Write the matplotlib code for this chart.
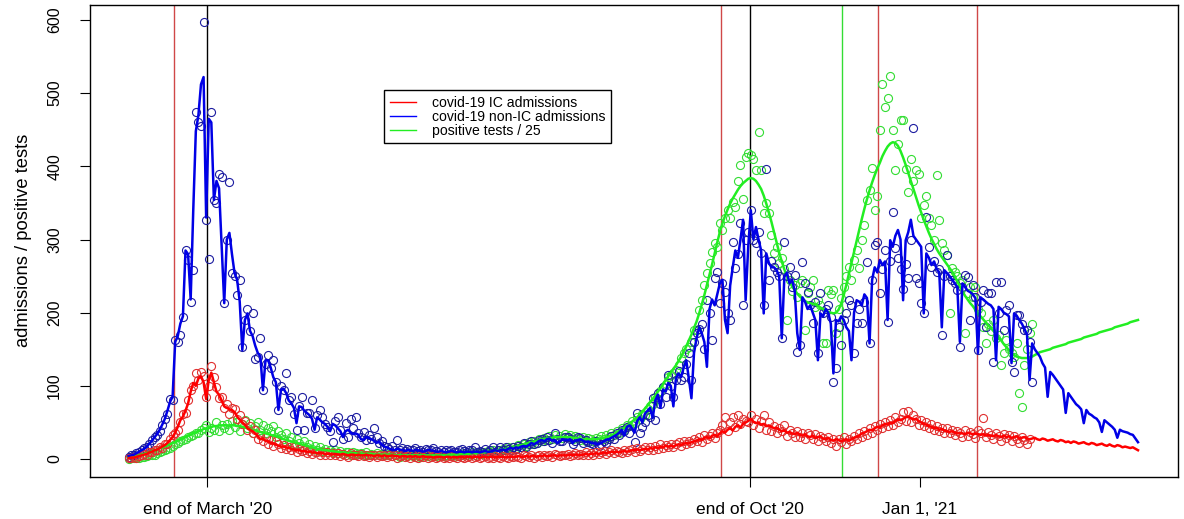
import matplotlib.pyplot as plt
import numpy as np
from matplotlib.lines import Line2D

plt.rcParams['font.family'] = ['Liberation Sans', 'DejaVu Sans']

# daily series, day 0 = first day of data
ic_line = [
    1, 2, 2, 3, 4, 5, 6, 7, 9, 10,
    12, 13, 15, 17, 19, 22, 26, 30, 36, 44,
    53, 58, 66, 76, 92, 104, 100, 110, 113, 105,
    82, 108, 118, 105, 92, 88, 80, 72, 70, 68,
    67, 64, 58, 54, 50, 47, 42, 40, 38, 35,
    31, 27, 28, 25, 24, 22, 21, 20, 18, 17,
    17, 16, 15, 14, 13, 12, 12, 11, 11, 10,
    10, 9, 9, 8, 8, 8, 7, 7, 7, 6,
    7, 6, 6, 7, 6, 5, 6, 6, 5, 6,
    5, 5, 6, 5, 5, 4, 5, 5, 4, 5,
    4, 4, 5, 4, 4, 3, 4, 4, 3, 4,
    3, 4, 3, 3, 4, 3, 3, 3, 2, 3,
    3, 3, 2, 3, 3, 2, 3, 2, 3, 3,
    2, 3, 3, 2, 3, 3, 2, 3, 3, 2,
    3, 3, 2, 3, 3, 3, 2, 3, 3, 3,
    3, 4, 3, 3, 4, 3, 4, 4, 3, 4,
    4, 5, 4, 4, 5, 5, 4, 5, 5, 5,
    5, 6, 5, 6, 6, 5, 6, 7, 6, 7,
    7, 8, 7, 8, 9, 8, 9, 10, 9, 10,
    9, 10, 11, 10, 11, 12, 12, 13, 12, 13,
    14, 13, 15, 14, 16, 15, 17, 16, 18, 17,
    18, 17, 19, 20, 19, 21, 22, 21, 23, 24,
    25, 27, 26, 29, 30, 28, 32, 33, 31, 35,
    38, 36, 40, 42, 39, 44, 46, 43, 48, 50,
    52, 55, 51, 49, 50, 47, 48, 45, 46, 44,
    42, 43, 40, 38, 39, 36, 37, 35, 34, 36,
    33, 32, 34, 31, 30, 32, 29, 30, 31, 28,
    27, 29, 26, 25, 27, 26, 24, 26, 27, 25,
    27, 29, 30, 32, 35, 36, 38, 40, 39, 42,
    44, 43, 46, 48, 47, 50, 49, 52, 54, 53,
    55, 57, 58, 56, 54, 55, 52, 50, 48, 47,
    45, 44, 42, 43, 40, 41, 39, 38, 37, 38,
    36, 35, 36, 35, 34, 36, 35, 34, 35, 34,
    33, 34, 32, 33, 32, 31, 33, 31, 30, 32,
    30, 31, 29, 30, 31, 28, 29, 30, 28, 27,
    28, 29, 27, 26, 28, 27, 25, 26, 27, 25,
    24, 26, 25, 23, 24, 22, 24, 23, 21, 22,
    23, 21, 20, 22, 21, 19, 20, 21, 19, 18,
    20, 18, 17, 19, 18, 16, 17, 16, 15, 16,
    14, 12,
]

nonic_line = [
    4, 5, 6, 8, 10, 12, 14, 17, 21, 25,
    30, 34, 40, 47, 55, 66, 78, 85, 160, 168,
    185, 195, 285, 280, 218, 340, 448, 470, 512, 522,
    330, 465, 460, 354, 380, 370, 290, 213, 300, 309,
    280, 254, 245, 215, 149, 190, 199, 175, 168, 155,
    145, 140, 94, 135, 135, 125, 112, 105, 67, 95,
    96, 90, 80, 76, 70, 49, 72, 71, 66, 63,
    60, 55, 40, 57, 54, 50, 48, 44, 38, 48,
    46, 42, 38, 30, 38, 40, 36, 34, 35, 33,
    27, 26, 30, 29, 27, 25, 22, 24, 20, 17,
    16, 14, 13, 12, 14, 13, 12, 11, 12, 12,
    11, 12, 12, 11, 10, 11, 12, 12, 11, 10,
    10, 11, 10, 9, 10, 11, 10, 9, 10, 10,
    9, 10, 10, 9, 10, 10, 9, 10, 11, 10,
    10, 11, 12, 11, 12, 13, 12, 14, 15, 14,
    16, 15, 17, 18, 17, 19, 22, 20, 22, 25,
    26, 24, 27, 28, 25, 26, 22, 24, 27, 26,
    26, 27, 22, 25, 26, 27, 25, 23, 24, 22,
    22, 21, 20, 22, 24, 26, 27, 29, 31, 33,
    36, 40, 32, 44, 46, 42, 36, 52, 57, 50,
    62, 66, 70, 56, 80, 88, 70, 95, 92, 104,
    100, 72, 110, 117, 112, 125, 135, 110, 83, 145,
    165, 180, 172, 160, 126, 205, 218, 210, 225, 240,
    245, 190, 172, 237, 262, 285, 275, 300, 327, 217,
    290, 340, 300, 317, 300, 285, 199, 281, 268, 262,
    262, 258, 250, 165, 249, 255, 240, 245, 230, 172,
    149, 221, 215, 205, 210, 200, 190, 135, 199, 195,
    205, 200, 185, 117, 190, 188, 195, 190, 180, 175,
    135, 200, 217, 215, 210, 225, 220, 158, 245, 262,
    255, 272, 265, 270, 190, 299, 290, 305, 313, 300,
    217, 299, 310, 327, 305, 300, 295, 290, 199, 281,
    275, 265, 270, 260, 255, 180, 258, 254, 250, 245,
    240, 235, 160, 240, 235, 230, 228, 225, 220, 145,
    221, 218, 215, 212, 210, 205, 135, 208, 205, 200,
    198, 195, 131, 199, 196, 190, 185, 178, 170, 108,
    158, 150, 145, 140, 131, 125, 85, 119, 115, 110,
    105, 100, 95, 63, 90, 85, 80, 75, 72, 68,
    49, 67, 62, 60, 57, 55, 50, 37, 53, 50,
    47, 44, 40, 29, 40, 38, 37, 36, 34, 33,
    28, 23,
]

tests_line = [
    2, 3, 3, 4, 5, 6, 7, 8, 9, 11,
    12, 13, 15, 16, 17, 19, 20, 22, 23, 25,
    27, 28, 30, 32, 33, 35, 36, 38, 39, 41,
    42, 43, 44, 45, 45, 46, 46, 46, 46, 46,
    46, 46, 45, 45, 44, 43, 42, 41, 40, 39,
    38, 37, 36, 35, 34, 33, 32, 31, 30, 29,
    27, 26, 25, 24, 23, 22, 21, 20, 19, 18,
    17, 16, 15, 14, 13, 13, 12, 12, 11, 11,
    10, 10, 9, 9, 9, 8, 8, 8, 8, 7,
    7, 7, 7, 7, 7, 6, 6, 6, 6, 6,
    6, 6, 6, 5, 5, 5, 5, 5, 5, 5,
    5, 5, 5, 5, 5, 5, 5, 5, 5, 5,
    5, 5, 5, 5, 6, 6, 6, 6, 6, 7,
    7, 7, 7, 8, 8, 8, 9, 9, 9, 10,
    10, 11, 11, 12, 12, 13, 14, 14, 15, 16,
    17, 18, 19, 20, 21, 22, 23, 24, 25, 26,
    27, 28, 28, 29, 29, 30, 30, 30, 30, 30,
    30, 30, 29, 29, 28, 28, 27, 27, 27, 27,
    27, 27, 28, 28, 29, 30, 31, 32, 34, 36,
    38, 40, 43, 45, 48, 51, 54, 57, 61, 65,
    69, 73, 78, 82, 87, 92, 97, 102, 108, 113,
    118, 123, 128, 134, 140, 147, 154, 162, 170, 179,
    188, 199, 211, 224, 238, 252, 266, 281, 296, 310,
    322, 332, 341, 349, 356, 362, 368, 373, 377, 380,
    383, 384, 383, 380, 375, 369, 360, 349, 337, 324,
    310, 296, 282, 270, 259, 250, 242, 236, 231, 226,
    222, 219, 216, 214, 213, 212, 211, 209, 207, 205,
    203, 201, 200, 199, 200, 204, 212, 224, 238, 253,
    268, 283, 298, 313, 328, 342, 355, 367, 378, 388,
    397, 405, 414, 421, 427, 431, 433, 432, 428, 421,
    412, 402, 391, 380, 369, 358, 347, 337, 327, 318,
    309, 301, 294, 287, 281, 276, 271, 266, 261, 256,
    250, 243, 236, 229, 223, 218, 213, 209, 204, 199,
    195, 191, 187, 183, 179, 175, 171, 166, 162, 157,
    153, 149, 145, 142, 140, 139, 138, 138, 138, 139,
    140, 142, 144, 146, 147, 148, 149, 150, 152, 153,
    154, 155, 156, 157, 159, 160, 161, 162, 163, 164,
    166, 167, 168, 169, 170, 171, 173, 174, 175, 176,
    177, 178, 180, 181, 182, 183, 184, 185, 187, 188,
    189, 190,
]

ic_obs = [
    1, 2, 3, 2, 4, 5, 7, 6, 10, 9,
    13, 12, 17, 15, 21, 20, 27, 33, 35, 40,
    50, 61, 63, 80, 95, 100, 117, 108, 119, 113,
    85, 100, 127, 112, 98, 83, 85, 70, 75, 62,
    70, 68, 55, 60, 48, 52, 40, 45, 35, 40,
    28, 33, 25, 30, 20, 26, 18, 24, 20, 15,
    19, 14, 17, 12, 16, 10, 14, 11, 13, 8,
    11, 7, 10, 9, 6, 10, 5, 9, 6, 8,
    5, 8, 4, 7, 6, 3, 8, 5, 6, 4,
    7, 4, 6, 3, 6, 5, 3, 6, 4, 5,
    3, 5, 4, 6, 2, 4, 5, 3, 4, 2,
    5, 3, 2, 4, 3, 5, 2, 3, 4, 1,
    3, 4, 2, 3, 1, 4, 3, 2, 4, 3,
    1, 3, 4, 2, 3, 4, 1, 3, 4, 2,
    3, 2, 4, 3, 1, 4, 3, 2, 4, 3,
    4, 3, 2, 5, 4, 3, 5, 2, 4, 5,
    3, 6, 4, 5, 3, 7, 5, 4, 6, 5,
    7, 4, 6, 8, 5, 7, 5, 9, 6, 8,
    6, 10, 7, 9, 11, 7, 10, 12, 8, 11,
    10, 8, 13, 10, 12, 14, 10, 15, 11, 14,
    16, 12, 17, 13, 18, 14, 20, 15, 19, 17,
    21, 16, 20, 23, 18, 24, 20, 25, 22, 27,
    24, 30, 23, 33, 27, 31, 36, 29, 35, 40,
    47, 58, 38, 50, 57, 44, 60, 48, 55, 52,
    50, 60, 47, 55, 43, 52, 60, 40, 50, 38,
    45, 35, 42, 38, 47, 32, 40, 36, 30, 38,
    30, 36, 28, 35, 33, 27, 34, 25, 31, 29,
    24, 30, 22, 28, 18, 27, 23, 30, 20, 28,
    25, 32, 27, 35, 30, 38, 33, 42, 36, 45,
    40, 48, 42, 50, 45, 53, 47, 58, 50, 55,
    64, 52, 66, 50, 60, 55, 47, 53, 45, 50,
    42, 48, 40, 45, 38, 43, 36, 42, 35, 40,
    33, 38, 35, 30, 40, 32, 37, 34, 29, 39,
    35, 56, 30, 37, 33, 28, 36, 31, 25, 34,
    29, 33, 24, 31, 27, 22, 30, 26, 20, 28,
]

nonic_obs = [
    3, 5, 6, 8, 9, 12, 15, 16, 20, 26,
    30, 33, 38, 46, 55, 62, 82, 80, 162, 160,
    170, 194, 285, 272, 214, 258, 474, 460, 455, 597,
    327, 274, 474, 354, 350, 390, 386, 213, 300, 378,
    254, 250, 224, 245, 153, 190, 205, 175, 199, 137,
    140, 165, 94, 130, 142, 125, 135, 105, 67, 100,
    95, 117, 80, 85, 62, 40, 72, 85, 40, 63,
    63, 80, 42, 60, 67, 57, 48, 44, 38, 23,
    52, 57, 40, 28, 49, 30, 55, 42, 57, 35,
    30, 37, 26, 33, 28, 42, 30, 22, 25, 18,
    17, 14, 18, 13, 26, 12, 15, 11, 14, 12,
    12, 15, 11, 13, 10, 14, 12, 13, 15, 11,
    10, 13, 9, 12, 11, 13, 10, 9, 12, 14,
    11, 9, 13, 12, 17, 10, 11, 9, 14, 10,
    12, 17, 10, 13, 16, 12, 17, 14, 13, 17,
    14, 18, 16, 22, 17, 20, 24, 21, 22, 26,
    28, 24, 30, 26, 22, 35, 28, 25, 24, 30,
    30, 28, 20, 24, 30, 29, 22, 26, 23, 22,
    20, 24, 18, 21, 25, 22, 27, 31, 28, 35,
    33, 40, 38, 44, 35, 46, 23, 63, 35, 44,
    50, 60, 58, 83, 53, 90, 75, 98, 85, 115,
    100, 85, 108, 120, 108, 112, 130, 145, 108, 160,
    172, 178, 185, 150, 217, 200, 163, 248, 256, 213,
    240, 228, 200, 190, 297, 261, 280, 322, 210, 300,
    310, 340, 300, 295, 310, 282, 210, 397, 245, 270,
    262, 255, 250, 165, 297, 250, 262, 235, 251, 146,
    156, 269, 240, 228, 210, 186, 215, 145, 227, 200,
    205, 210, 194, 105, 124, 180, 156, 190, 200, 217,
    210, 145, 186, 205, 186, 215, 269, 158, 245, 292,
    297, 227, 260, 285, 187, 270, 337, 288, 275, 260,
    233, 267, 247, 300, 452, 247, 240, 213, 200, 331,
    290, 262, 270, 255, 260, 169, 250, 279, 250, 245,
    240, 231, 153, 235, 251, 249, 190, 238, 221, 149,
    215, 231, 180, 227, 227, 133, 242, 200, 242, 176,
    204, 210, 133, 119, 197, 197, 185, 176, 176, 160,
    105,
]

tests_obs = [
    0, 1, 1, 2, 2, 3, 3, 4, 5, 6,
    6, 8, 9, 11, 12, 14, 15, 18, 20, 22,
    24, 26, 27, 30, 32, 33, 36, 35, 40, 42,
    47, 37, 43, 40, 50, 38, 46, 42, 48, 40,
    52, 44, 50, 38, 48, 53, 42, 49, 36, 45,
    50, 40, 47, 35, 43, 38, 45, 30, 38, 33,
    28, 35, 25, 30, 20, 27, 22, 18, 25, 16,
    20, 14, 18, 12, 16, 11, 14, 9, 13, 10,
    12, 8, 11, 7, 10, 9, 6, 10, 8, 7,
    8, 6, 9, 5, 7, 6, 8, 5, 7, 6,
    5, 7, 4, 6, 5, 3, 6, 5, 4, 6,
    4, 6, 5, 3, 5, 6, 4, 5, 7, 4,
    5, 6, 4, 5, 7, 5, 6, 4, 7, 6,
    8, 6, 7, 9, 6, 8, 10, 7, 9, 11,
    9, 12, 10, 13, 11, 14, 12, 16, 13, 17,
    15, 19, 16, 21, 18, 23, 20, 25, 22, 27,
    24, 29, 26, 31, 27, 33, 28, 31, 29, 34,
    30, 33, 27, 31, 29, 26, 30, 25, 29, 28,
    24, 29, 27, 31, 28, 33, 30, 35, 33, 38,
    36, 42, 40, 47, 45, 52, 49, 57, 55, 62,
    60, 68, 72, 75, 85, 82, 93, 98, 103, 112,
    115, 118, 122, 128, 138, 145, 150, 153, 160, 176,
    176, 204, 217, 238, 254, 268, 283, 295, 290, 322,
    313, 329, 340, 329, 351, 345, 380, 402, 355, 413,
    418, 415, 410, 395, 447, 395, 336, 350, 336, 306,
    281, 290, 268, 275, 260, 190, 245, 230, 238, 221,
    240, 245, 176, 227, 235, 245, 208, 217, 210, 158,
    158, 231, 225, 231, 172, 205, 220, 235, 250, 262,
    245, 272, 285, 261, 300, 320, 354, 367, 398, 340,
    360, 449, 513, 481, 493, 524, 449, 395, 430, 463,
    463, 397, 365, 410, 380, 395, 390, 329, 347, 360,
    330, 320, 300, 388, 327, 295, 285, 279, 199, 261,
    255, 250, 240, 245, 172, 227, 235, 221, 235, 205,
    200, 180, 158, 185, 175, 190, 165, 170, 128, 145,
    163, 150, 145, 140, 158, 90, 71, 128, 150, 172,
    185,
]

tick_days = [30.5, 240.5, 306.5]
tick_labels = ["end of March '20", "end of Oct '20", "Jan 1, '21"]
red_marks = [17.5, 229.5, 290.3, 328.7]
black_marks = [30.5, 240.5]
green_marks = [276.4]

days = np.arange(len(nonic_line))

fig = plt.figure(figsize=(11.84, 5.19), dpi=100)
ax = fig.add_axes([90 / 1184, 42.5 / 519, 1088 / 1184, 471.8 / 519])

for d in red_marks:
    ax.axvline(d, color='#d04848', lw=1, zorder=1)
for d in black_marks:
    ax.axvline(d, color='black', lw=1, zorder=1)
for d in green_marks:
    ax.axvline(d, color='#33dd33', lw=1, zorder=1)

ax.plot(np.arange(len(tests_obs)), tests_obs, 'o', mfc='none', mec='#33dd33', ms=5.8, mew=0.8, zorder=2)
ax.plot(np.arange(len(nonic_obs)), nonic_obs, 'o', mfc='none', mec='#1c1ca0', ms=5.8, mew=0.8, zorder=2)
ax.plot(np.arange(len(ic_obs)), ic_obs, 'o', mfc='none', mec='#e03030', ms=5.8, mew=0.8, zorder=2)

ax.plot(days, tests_line, color='#22ee22', lw=1.8, zorder=3)
ax.plot(days, nonic_line, color='#0000e6', lw=1.8, zorder=3)
ax.plot(days, ic_line, color='#ff0000', lw=1.8, zorder=3)

ax.set_xlim(-15, 406.5)
ax.set_ylim(-23.9, 620.9)
ax.set_xticks(tick_days)
ax.set_xticklabels(tick_labels)
ax.set_yticks(np.arange(0, 601, 100))
ax.tick_params(axis='x', length=7, pad=11, labelsize=12.5, width=0.8)
ax.tick_params(axis='y', length=7, pad=13, labelsize=11.5, width=0.8, labelrotation=90)
for lab in ax.get_yticklabels():
    lab.set_va('center')
ax.set_ylabel('admissions / positive tests', fontsize=13.2, labelpad=11)
for s in ax.spines.values():
    s.set_linewidth(1)

handles = [Line2D([], [], color='#ff0000', lw=1),
           Line2D([], [], color='#0000ff', lw=1),
           Line2D([], [], color='#22ee22', lw=1)]
leg = ax.legend(handles, ['covid-19 IC admissions', 'covid-19 non-IC admissions', 'positive tests / 25'],
                loc='upper left', bbox_to_anchor=((384 - 90) / 1088, (476.5 - 90) / 471.8),
                borderaxespad=0, fontsize=10.1, fancybox=False, framealpha=1,
                edgecolor='black', handlelength=1.9, handletextpad=1.1,
                labelspacing=0.0, borderpad=0.4)
leg.get_frame().set_linewidth(1)

fig.savefig('out.png', dpi=100)
